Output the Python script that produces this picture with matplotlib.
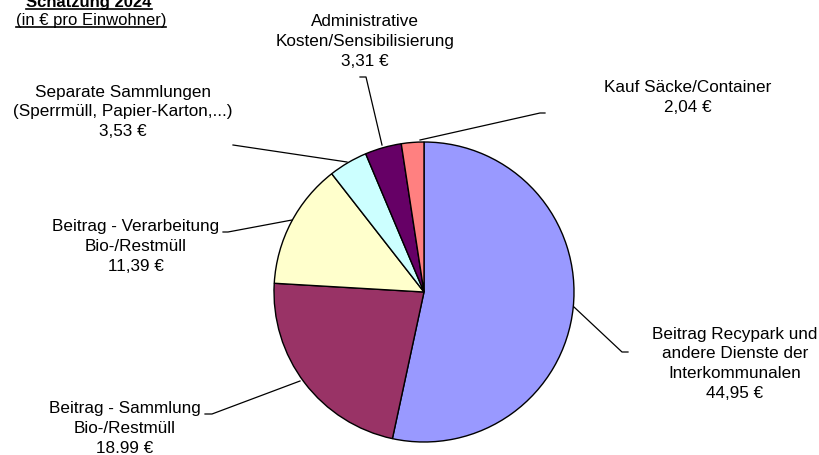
import matplotlib
matplotlib.use("Agg")
import matplotlib.pyplot as plt

plt.rcParams['font.family'] = ['Liberation Sans', 'DejaVu Sans']

# Data
categories = [
    "Beitrag Recypark und\nandere Dienste der\nInterkommunalen",
    "Beitrag - Sammlung\nBio-/Restmüll",
    "Beitrag - Verarbeitung\nBio-/Restmüll",
    "Separate Sammlungen\n(Sperrmüll, Papier-Karton,...)",
    "Administrative\nKosten/Sensibilisierung",
    "Kauf Säcke/Container",
]
values = [44.95, 18.99, 11.39, 3.53, 3.31, 2.04]
value_labels = ["44,95 €", "18.99 €", "11,39 €", "3,53 €", "3,31 €", "2,04 €"]
colors = ["#9999FF", "#993366", "#FFFFCC", "#CCFFFF", "#660066", "#FF8080"]

W, H = 820, 455
fig = plt.figure(figsize=(W / 100, H / 100), dpi=100)
ax = fig.add_axes([0, 0, 1, 1])

def Y(y):
    return H - y

cx, cy, r = 424, 292, 150
ax.pie(values, colors=colors, startangle=90, counterclock=False,
       center=(cx, Y(cy)), radius=r,
       wedgeprops=dict(edgecolor="black", linewidth=1.0))
ax.set_xlim(0, W)
ax.set_ylim(0, H)
ax.set_aspect('equal')
ax.axis('off')

# label positions (center x, top-line y) and leader lines (pixel coords)
label_pos = [(735, 334), (125, 409), (136, 227), (123, 92), (365, 22), (688, 88)]
leaders = [
    [(574, 307), (622, 352), (628, 352)],
    [(300, 381), (212, 414), (205, 414)],
    [(292, 220), (228, 232), (223, 232)],
    [(347, 162), (233, 145)],
    [(382, 145), (366, 77), (360, 77)],
    [(420, 140), (540, 113), (545, 113)],
]

fs = 12.3
line_h = 19.8
for cat, vl, (x, y), pts in zip(categories, value_labels, label_pos, leaders):
    lines = cat.split("\n") + [vl]
    for i, ln in enumerate(lines):
        ax.text(x, Y(y + i * line_h), ln, ha='center', va='center', fontsize=fs, color='black')
    xs = [p[0] for p in pts]
    ys = [Y(p[1]) for p in pts]
    ax.plot(xs, ys, color='black', linewidth=0.9)

# Title with underline
t1 = ax.text(89, Y(3), "Schätzung 2024", ha='center', va='center', fontsize=12, fontweight='bold')
t2 = ax.text(91, Y(21), "(in € pro Einwohner)", ha='center', va='center', fontsize=12)
fig.canvas.draw()
renderer = fig.canvas.get_renderer()
inv = ax.transData.inverted()
for t in (t1, t2):
    bb = t.get_window_extent(renderer)
    (x0, y0), (x1, _) = inv.transform([(bb.x0, bb.y0 + 1.5), (bb.x1, bb.y0 + 1.5)])
    ax.plot([x0, x1], [y0, y0], color='black', linewidth=1.2)

fig.savefig("out.png", dpi=100)
